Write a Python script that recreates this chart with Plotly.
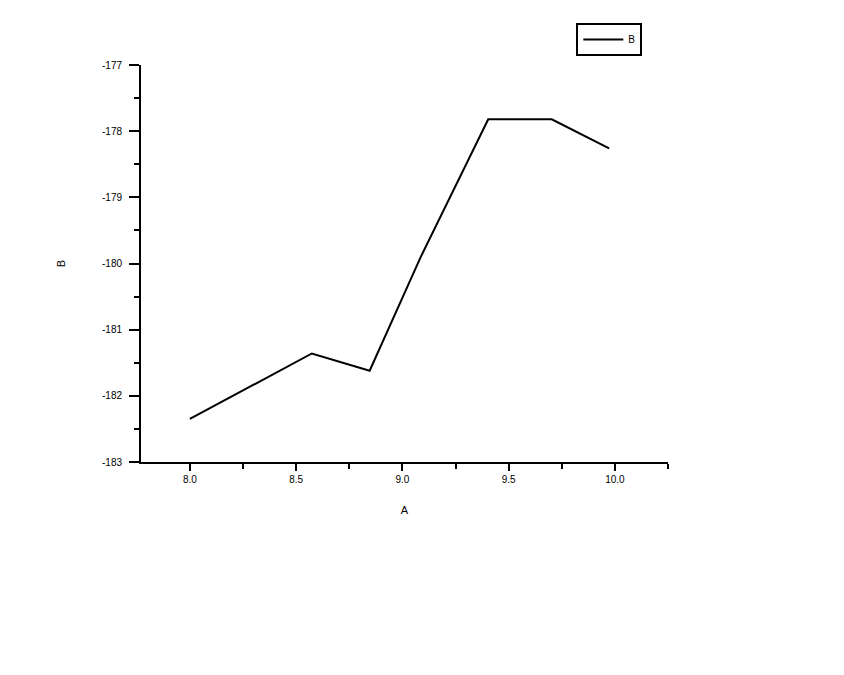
import plotly.graph_objects as go

# values
a_values = [8.0, 8.574, 8.846, 9.085, 9.404, 9.703, 9.973]
b_values = [-182.35, -181.36, -181.62, -179.91, -177.82, -177.82, -178.26]

x_ticks = [8.0, 8.5, 9.0, 9.5, 10.0]
x_tick_labels = ["8.0", "8.5", "9.0", "9.5", "10.0"]
y_ticks = [-177, -178, -179, -180, -181, -182, -183]
y_tick_labels = ["-177", "-178", "-179", "-180", "-181", "-182", "-183"]

FONT = "Arial, Liberation Sans, sans-serif"
INK = "#000000"

fig = go.Figure()
fig.add_trace(
    go.Scatter(
        x=a_values,
        y=b_values,
        mode="lines",
        name="B",
        line=dict(color=INK, width=2),
    )
)

# page body adds an 8px offset, so margins are shifted to compensate
fig.update_layout(
    width=844,
    height=675,
    margin=dict(l=133, r=184, t=57, b=221),
    paper_bgcolor="white",
    plot_bgcolor="white",
    font=dict(family=FONT, size=10, color=INK),
    showlegend=True,
    legend=dict(
        x=0.826,
        y=1.106,
        xanchor="left",
        yanchor="top",
        bordercolor=INK,
        borderwidth=2,
        bgcolor="white",
        font=dict(size=10),
        itemwidth=40,
        tracegroupgap=0,
    ),
)

fig.update_xaxes(
    range=[7.77, 10.25],
    tickmode="array",
    tickvals=x_ticks,
    ticktext=x_tick_labels,
    ticks="outside",
    ticklen=7,
    tickwidth=2,
    tickcolor=INK,
    minor=dict(dtick=0.25, tick0=8.0, ticks="outside", ticklen=5, tickwidth=2, tickcolor=INK),
    showline=True,
    linecolor=INK,
    linewidth=2,
    showgrid=False,
    zeroline=False,
    title=dict(text="A", standoff=22, font=dict(size=11)),
)
fig.update_yaxes(
    range=[-183, -177],
    tickmode="array",
    tickvals=y_ticks,
    ticktext=y_tick_labels,
    ticks="outside",
    ticklen=10,
    tickwidth=2,
    tickcolor=INK,
    ticklabelstandoff=5,
    minor=dict(dtick=0.5, tick0=-183, ticks="outside", ticklen=5, tickwidth=2, tickcolor=INK),
    showline=True,
    linecolor=INK,
    linewidth=2,
    showgrid=False,
    zeroline=False,
    title=dict(text="B", standoff=34, font=dict(size=11)),
)

fig.write_html("out.html")
